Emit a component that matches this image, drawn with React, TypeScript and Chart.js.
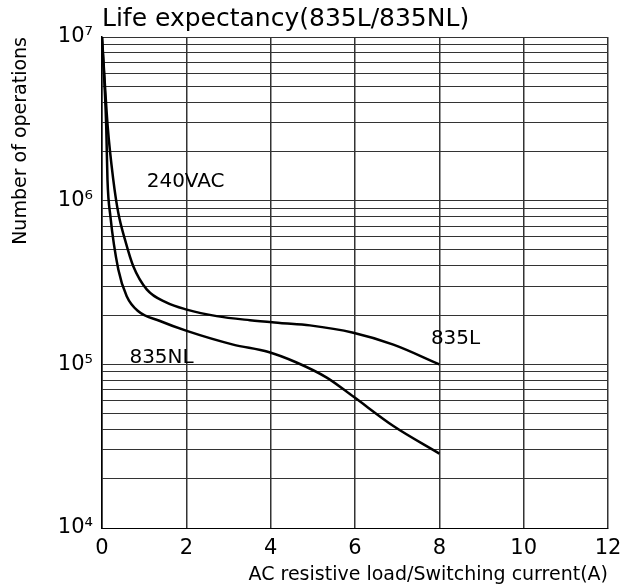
import React, { useEffect, useRef } from 'react';
import { Chart, registerables } from 'chart.js';

Chart.register(...registerables);

const chartTitle = 'Life expectancy(835L/835NL)';
const xAxisTitle = 'AC resistive load/Switching current(A)';
const yAxisTitle = 'Number of operations';

const xMin = 0;
const xMax = 12;
const xStep = 2;

const yTickValues = [
  10000, 20000, 30000, 40000, 50000, 60000, 70000, 80000, 90000,
  100000, 200000, 300000, 400000, 500000, 600000, 700000, 800000, 900000,
  1000000, 2000000, 3000000, 4000000, 5000000, 6000000, 7000000, 8000000, 9000000,
  10000000,
];
const yTickLabels: Record<string, string> = {
  '10000': '10⁴',
  '100000': '10⁵',
  '1000000': '10⁶',
  '10000000': '10⁷',
};

const current835L = [0, 0.135, 0.268, 0.387, 0.545, 0.742, 1.06, 1.534, 2.01, 2.72, 3.51, 4.22, 4.93, 5.96, 6.91, 8];
const ops835L = [1e7, 2.84e6, 1.34e6, 8.4e5, 5.78e5, 3.97e5, 2.87e5, 2.38e5, 2.16e5, 1.97e5, 1.86e5, 1.79e5, 1.73e5, 1.56e5, 1.32e5, 1.0e5];

const current835NL = [0, 0.1, 0.13, 0.2, 0.387, 0.586, 0.861, 1.375, 2.01, 3.11, 3.95, 4.6, 5.33, 5.96, 6.91, 8];
const ops835NL = [1e7, 2.84e6, 1.34e6, 8.0e5, 3.8e5, 2.61e5, 2.11e5, 1.84e5, 1.6e5, 1.32e5, 1.19e5, 1.03e5, 8.3e4, 6.35e4, 4.2e4, 2.85e4];

const noteTexts = ['240VAC', '835NL', '835L'];
const noteX = [1.06, 0.65, 7.8];
const noteY = [1.31e6, 1.09e5, 1.43e5];

const FONT = 'DejaVu Sans';

const notesPlugin = {
  id: 'notes',
  afterDatasetsDraw(chart: any) {
    const { ctx, scales } = chart;
    ctx.save();
    ctx.font = `20px "${FONT}"`;
    ctx.fillStyle = '#000';
    ctx.textAlign = 'left';
    ctx.textBaseline = 'middle';
    noteTexts.forEach((t, i) => {
      ctx.fillText(t, scales.x.getPixelForValue(noteX[i]), scales.y.getPixelForValue(noteY[i]));
    });
    ctx.restore();
  },
};

export default function App() {
  const ref = useRef<HTMLCanvasElement | null>(null);
  useEffect(() => {
    document.body.style.margin = '0';
    const canvas = ref.current;
    if (!canvas) return;
    Chart.defaults.font.family = FONT;
    Chart.defaults.color = '#000';
    const chart = new Chart(canvas, {
      type: 'line',
      data: {
        datasets: [
          {
            label: '835L',
            data: current835L.map((x, i) => ({ x, y: ops835L[i] })),
            borderColor: '#000',
            borderWidth: 2.5,
            pointRadius: 0,
            fill: false,
            cubicInterpolationMode: 'monotone',
          },
          {
            label: '835NL',
            data: current835NL.map((x, i) => ({ x, y: ops835NL[i] })),
            borderColor: '#000',
            borderWidth: 2.5,
            pointRadius: 0,
            fill: false,
            cubicInterpolationMode: 'monotone',
          },
        ],
      },
      options: {
        animation: false,
        responsive: false,
        layout: { padding: { left: 0, right: 33, top: 0, bottom: 0 } },
        plugins: {
          legend: { display: false },
          tooltip: { enabled: false },
          title: {
            display: true,
            text: chartTitle,
            align: 'start',
            fullSize: false,
            color: '#000',
            font: { family: FONT, size: 25, weight: 'normal' },
            padding: { top: 4, bottom: 3 },
          },
        },
        scales: {
          x: {
            type: 'linear',
            min: xMin,
            max: xMax,
            afterFit: (s: any) => {
              s.height = 60;
            },
            ticks: { stepSize: xStep, padding: 8, color: '#000', font: { family: FONT, size: 21 } },
            grid: { display: true, drawOnChartArea: true, color: '#333', lineWidth: 1.5, drawTicks: false },
            border: { color: '#000', width: 1 },
            title: {
              display: true,
              text: xAxisTitle,
              align: 'end',
              color: '#000',
              font: { family: FONT, size: 19 },
              padding: { top: 0, bottom: 2 },
            },
          },
          y: {
            type: 'logarithmic',
            min: 1e4,
            max: 1e7,
            afterBuildTicks: (s: any) => {
              s.ticks = yTickValues.map((v) => ({ value: v }));
            },
            afterFit: (s: any) => {
              s.width = 102;
            },
            ticks: {
              autoSkip: false,
              padding: 9,
              color: '#000',
              font: { family: FONT, size: 21 },
              callback: (v: any) => yTickLabels[String(v)] ?? '',
            },
            grid: { color: '#333', lineWidth: 1, drawTicks: false },
            border: { color: '#000', width: 1.5 },
            title: {
              display: true,
              text: yAxisTitle,
              align: 'end',
              color: '#000',
              font: { family: FONT, size: 19 },
              padding: { top: 10, bottom: 0 },
            },
          },
        },
      },
      plugins: [notesPlugin],
    } as any);
    return () => chart.destroy();
  }, []);
  return <canvas ref={ref} width={641} height={588} style={{ display: 'block' }} />;
}
